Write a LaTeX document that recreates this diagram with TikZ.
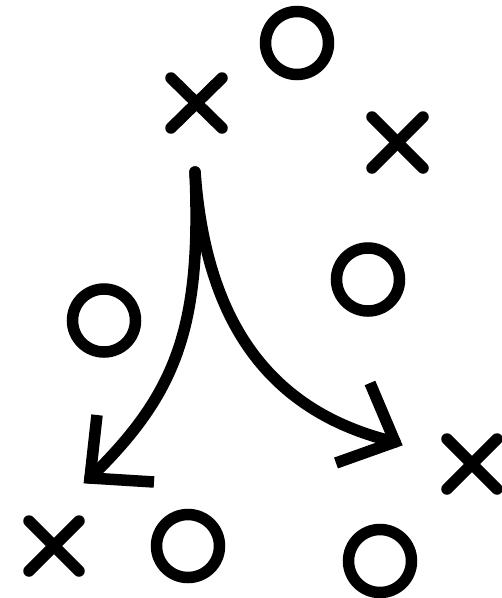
\documentclass[tikz,border=0pt]{standalone}
\usepackage{tikz}
\usetikzlibrary{positioning,arrows.meta}

\begin{document}
\begin{tikzpicture}[x=1pt,y=-1pt,
	xmark/.style={line width=11.5pt,line cap=round},
	omark/.style={line width=11.5pt},
	play/.style={line width=11.5pt,line cap=round},
	playhead/.style={line width=11.5pt,line cap=butt,line join=miter}]
	
	\useasboundingbox (0,0) rectangle (502,598);
	\clip (0,0) rectangle (502,598);
	
	% crosses
	\draw[xmark] (171,78) -- (222,128);
	\draw[xmark] (171,128) -- (222,78);
	
	\draw[xmark] (372,117) -- (423,168);
	\draw[xmark] (372,168) -- (423,117);
	
	\draw[xmark] (29,521) -- (79,571);
	\draw[xmark] (29,571) -- (79,521);
	
	\draw[xmark] (447,439) -- (497,489);
	\draw[xmark] (447,489) -- (497,439);
	
	% circles
	\draw[omark] (297,43) circle (31.5);
	\draw[omark] (368,279.5) circle (31.5);
	\draw[omark] (104,320.5) circle (31.5);
	\draw[omark] (188,546) circle (31.5);
	\draw[omark] (380,561) circle (31.5);
	
	% the two plays
	\coordinate (start) at (195,172);
	\coordinate (lefttip) at (90,478);
	\coordinate (righttip) at (395,442);
	
	\draw[play] (start) .. controls (202,330) and (175,395) .. (lefttip);
	\draw[play] (start) .. controls (205,310) and (260,410) .. (righttip);
	
	\draw[playhead] (97,415) -- (lefttip) -- (154,482);
	\draw[playhead] (370,383) -- (righttip) -- (336,463);
	
\end{tikzpicture}
\end{document}
